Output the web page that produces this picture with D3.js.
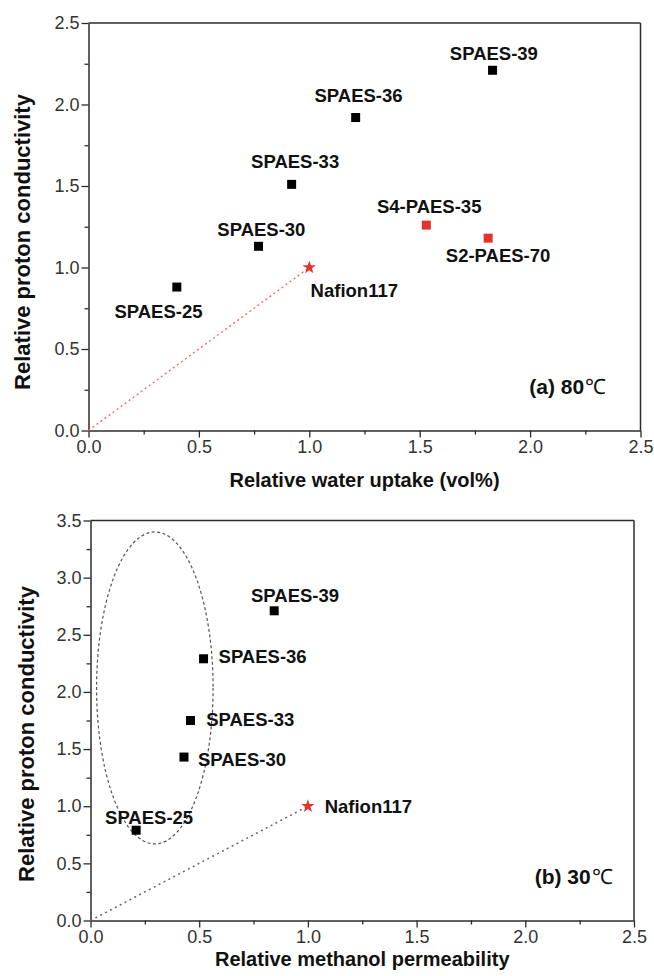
<!DOCTYPE html>
<html>
<head>
<meta charset="utf-8">
<script src="https://cdn.jsdelivr.net/npm/d3@7"></script>
<style>
  html, body { margin: 0; padding: 0; background: #fff; }
  svg { display: block; }
  text { font-family: Arial, "Liberation Sans", sans-serif; }
</style>
</head>
<body>
<svg id="fig" width="654" height="976"></svg>
<script>
// ---- Panel (a): 80 °C, relative water uptake ----
const namesA   = ["SPAES-25", "SPAES-30", "SPAES-33", "SPAES-36", "SPAES-39", "S4-PAES-35", "S2-PAES-70"];
const waterA   = [0.40, 0.77, 0.92, 1.21, 1.83, 1.53, 1.81];
const condA    = [0.88, 1.13, 1.51, 1.92, 2.21, 1.26, 1.18];
const groupA   = ["spaes", "spaes", "spaes", "spaes", "spaes", "ref", "ref"];
const nafionA  = [1.0, 1.0];

// ---- Panel (b): 30 °C, relative methanol permeability ----
const namesB   = ["SPAES-25", "SPAES-30", "SPAES-33", "SPAES-36", "SPAES-39"];
const methB    = [0.21, 0.43, 0.46, 0.52, 0.845];
const condB    = [0.79, 1.43, 1.75, 2.29, 2.71];
const nafionB  = [1.0, 1.0];

// axis tick values
const xTicks   = [0, 0.5, 1.0, 1.5, 2.0, 2.5];
const yTicksA  = [0, 0.5, 1.0, 1.5, 2.0, 2.5];
const yTicksB  = [0, 0.5, 1.0, 1.5, 2.0, 2.5, 3.0, 3.5];

// label anchors (data units) and alignment
const labelsA = [
  { t: "SPAES-25",   x: 0.317, y: 0.691, a: "middle" },
  { t: "SPAES-30",   x: 0.783, y: 1.195, a: "middle" },
  { t: "SPAES-33",   x: 0.936, y: 1.613, a: "middle" },
  { t: "SPAES-36",   x: 1.223, y: 2.018, a: "middle" },
  { t: "SPAES-39",   x: 1.836, y: 2.275, a: "middle" },
  { t: "S4-PAES-35", x: 1.543, y: 1.332, a: "middle" },
  { t: "S2-PAES-70", x: 1.855, y: 1.031, a: "middle" },
  { t: "Nafion117",  x: 1.006, y: 0.820, a: "start" }
];
const labelsB = [
  { t: "SPAES-25",  x: 0.067, y: 0.845, a: "start" },
  { t: "SPAES-30",  x: 0.494, y: 1.351, a: "start" },
  { t: "SPAES-33",  x: 0.532, y: 1.703, a: "start" },
  { t: "SPAES-36",  x: 0.589, y: 2.254, a: "start" },
  { t: "SPAES-39",  x: 0.941, y: 2.785, a: "middle" },
  { t: "Nafion117", x: 1.077, y: 0.939, a: "start" }
];

const svg = d3.select("#fig");
const axisColor = "#2b2b2b";
const red = "#e4312b";

function panel(cfg) {
  const x = d3.scaleLinear().domain([0, 2.5]).range([cfg.left, cfg.right]);
  const y = d3.scaleLinear().domain([0, cfg.yMax]).range([cfg.bottom, cfg.top]);
  const g = svg.append("g");

  // frame: top and right edges
  g.append("line").attr("x1", cfg.left).attr("x2", cfg.right).attr("y1", cfg.top).attr("y2", cfg.top)
    .attr("stroke", axisColor).attr("stroke-width", 1.5);
  g.append("line").attr("x1", cfg.right).attr("x2", cfg.right).attr("y1", cfg.top).attr("y2", cfg.bottom)
    .attr("stroke", axisColor).attr("stroke-width", 1.5);

  // minor ticks
  const xMinor = d3.range(0.25, 2.5, 0.5);
  const yMinor = d3.range(0.25, cfg.yMax, 0.5);
  const gx = g.append("g").attr("transform", `translate(0,${cfg.bottom})`)
    .call(d3.axisBottom(x).tickValues(xMinor).tickSize(4).tickFormat(""));
  const gy = g.append("g").attr("transform", `translate(${cfg.left},0)`)
    .call(d3.axisLeft(y).tickValues(yMinor).tickSize(4).tickFormat(""));
  [gx, gy].forEach(a => { a.select(".domain").remove(); a.selectAll("line").attr("stroke", axisColor).attr("stroke-width", 1.3); });

  // major axes
  const ax = g.append("g").attr("transform", `translate(0,${cfg.bottom})`)
    .call(d3.axisBottom(x).tickValues(xTicks).tickSize(7).tickSizeOuter(0).tickPadding(3).tickFormat(d3.format(".1f")));
  const ay = g.append("g").attr("transform", `translate(${cfg.left},0)`)
    .call(d3.axisLeft(y).tickValues(cfg.yTicks).tickSize(7).tickSizeOuter(0).tickPadding(2).tickFormat(d3.format(".1f")));
  [ax, ay].forEach(a => {
    a.select(".domain").attr("stroke", axisColor).attr("stroke-width", 1.5);
    a.selectAll("line").attr("stroke", axisColor).attr("stroke-width", 1.3);
    a.selectAll("text").attr("fill", "#333").style("font-size", "18px").style("font-family", "Arial, 'Liberation Sans', sans-serif");
  });

  // axis titles
  g.append("text").attr("x", (cfg.left + cfg.right) / 2).attr("y", cfg.xTitleY)
    .attr("text-anchor", "middle").attr("font-weight", "bold").attr("font-size", 20).attr("fill", "#111")
    .text(cfg.xTitle);
  g.append("text").attr("transform", `translate(${cfg.yTitleX},${cfg.yTitleCY}) rotate(-90)`)
    .attr("text-anchor", "middle").attr("font-weight", "bold").attr("font-size", 22).attr("fill", "#111")
    .text("Relative proton conductivity");

  return { g, x, y };
}

// ---------------- Panel (a) ----------------
const pA = panel({ left: 88.5, right: 640.5, top: 23, bottom: 430.5, yMax: 2.5, yTicks: yTicksA,
  xTitle: "Relative water uptake (vol%)", xTitleY: 487, yTitleX: 30, yTitleCY: 242 });

pA.g.append("line")
  .attr("x1", pA.x(0)).attr("y1", pA.y(0)).attr("x2", pA.x(nafionA[0])).attr("y2", pA.y(nafionA[1]))
  .attr("stroke", "#ef6b63").attr("stroke-width", 1.4).attr("stroke-dasharray", "2,3");

const sq = 9;
pA.g.selectAll("rect.pt").data(namesA.map((n, i) => ({ n, x: waterA[i], y: condA[i], grp: groupA[i] })))
  .join("rect").attr("class", "pt")
  .attr("x", d => pA.x(d.x) - sq / 2).attr("y", d => pA.y(d.y) - sq / 2)
  .attr("width", sq).attr("height", sq)
  .attr("fill", d => d.grp === "ref" ? red : "#000");

pA.g.append("path").attr("d", d3.symbol(d3.symbolStar, 55)())
  .attr("transform", `translate(${pA.x(nafionA[0])},${pA.y(nafionA[1])})`).attr("fill", red);

pA.g.selectAll("text.lbl").data(labelsA).join("text").attr("class", "lbl")
  .attr("x", d => pA.x(d.x)).attr("y", d => pA.y(d.y)).attr("text-anchor", d => d.a)
  .attr("font-weight", "bold").attr("font-size", 18.5).attr("fill", "#111").text(d => d.t);

pA.g.append("text").attr("x", pA.x(1.996)).attr("y", pA.y(0.225))
  .attr("font-weight", "bold").attr("font-size", 21).attr("fill", "#111")
  .text("(a) 80").append("tspan").attr("font-weight", "normal").attr("dx", 1).text("℃");

// ---------------- Panel (b) ----------------
const pB = panel({ left: 90.5, right: 634, top: 520.5, bottom: 920.5, yMax: 3.5, yTicks: yTicksB,
  xTitle: "Relative methanol permeability", xTitleY: 966, yTitleX: 34, yTitleCY: 734 });

// grouping ellipse around the SPAES series
pB.g.append("ellipse")
  .attr("cx", pB.x(0.296)).attr("cy", pB.y(2.035))
  .attr("rx", pB.x(0.296 + 0.268) - pB.x(0.296)).attr("ry", pB.y(2.035) - pB.y(2.035 + 1.365))
  .attr("fill", "none").attr("stroke", "#555").attr("stroke-width", 1.2).attr("stroke-dasharray", "3,2.5");

pB.g.append("line")
  .attr("x1", pB.x(0)).attr("y1", pB.y(0)).attr("x2", pB.x(nafionB[0])).attr("y2", pB.y(nafionB[1]))
  .attr("stroke", "#666").attr("stroke-width", 1.5).attr("stroke-dasharray", "2,3.5");

pB.g.selectAll("rect.pt").data(namesB.map((n, i) => ({ n, x: methB[i], y: condB[i] })))
  .join("rect").attr("class", "pt")
  .attr("x", d => pB.x(d.x) - sq / 2).attr("y", d => pB.y(d.y) - sq / 2)
  .attr("width", sq).attr("height", sq).attr("fill", "#000");

pB.g.append("path").attr("d", d3.symbol(d3.symbolStar, 55)())
  .attr("transform", `translate(${pB.x(nafionB[0])},${pB.y(nafionB[1])})`).attr("fill", red);

pB.g.selectAll("text.lbl").data(labelsB).join("text").attr("class", "lbl")
  .attr("x", d => pB.x(d.x)).attr("y", d => pB.y(d.y)).attr("text-anchor", d => d.a)
  .attr("font-weight", "bold").attr("font-size", 18.5).attr("fill", "#111").text(d => d.t);

pB.g.append("text").attr("x", pB.x(2.043)).attr("y", pB.y(0.32))
  .attr("font-weight", "bold").attr("font-size", 21).attr("fill", "#111")
  .text("(b) 30").append("tspan").attr("font-weight", "normal").attr("dx", 1).text("℃");
</script>
</body>
</html>
